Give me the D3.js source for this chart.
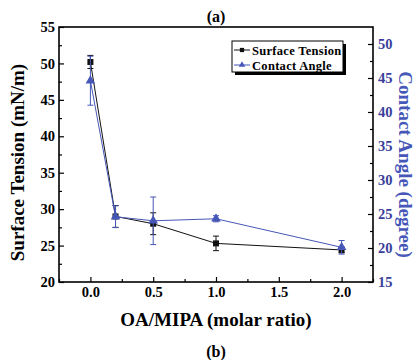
<!DOCTYPE html>
<html>
<head>
<meta charset="utf-8">
<script src="https://cdn.jsdelivr.net/npm/d3@7"></script>
<style>
  body { margin: 0; background: #fff; }
  svg text { font-family: "Liberation Serif", "Times New Roman", serif; font-weight: bold; }
</style>
</head>
<body>
<svg id="chart" width="419" height="360"></svg>
<script>
// data
const ratios = [0, 0.2, 0.5, 1.0, 2.0];
const tension = [50.2, 29.0, 28.0, 25.3, 24.4];
const tensionErr = [0.9, 1.5, 1.5, 1.0, 0.4];
const angle = [44.6, 24.6, 24.0, 24.3, 20.1];
const angleErr = [3.6, 1.6, 3.5, 0.45, 1.0];
const xTicks = [0, 0.5, 1.0, 1.5, 2.0];
const leftTicks = [20, 25, 30, 35, 40, 45, 50, 55];
const rightTicks = [15, 20, 25, 30, 35, 40, 45, 50];

const blue = "#4657b8";
const blueText = "#3a3f9c";

const svg = d3.select("#chart");
const m = { left: 59, right: 373, top: 27, bottom: 282 };

const x = d3.scaleLinear().domain([-0.25, 2.25]).range([m.left, m.right]);
const yL = d3.scaleLinear().domain([20, 55]).range([m.bottom, m.top]);
const yR = d3.scaleLinear().domain([15, 52.5]).range([m.bottom, m.top]);

// frame
svg.append("rect")
  .attr("x", m.left).attr("y", m.top)
  .attr("width", m.right - m.left).attr("height", m.bottom - m.top)
  .attr("fill", "none").attr("stroke", "#000").attr("stroke-width", 1.6);

// axes (ticks inward)
const tickFont = (g, color) => {
  g.select(".domain").remove();
  g.selectAll("text").attr("font-size", 14.5).attr("fill", color);
  g.selectAll("line").attr("stroke", "#000").attr("stroke-width", 1.2);
};

const minorX = d3.range(-0.25, 2.3, 0.25).filter(v => xTicks.indexOf(Math.round(v * 100) / 100) < 0);
svg.append("g").attr("transform", `translate(0,${m.bottom})`)
  .call(d3.axisBottom(x).tickValues(minorX).tickSize(-3).tickFormat(""))
  .call(g => tickFont(g, "#000"));
svg.append("g").attr("transform", `translate(0,${m.bottom})`)
  .call(d3.axisBottom(x).tickValues(xTicks).tickSize(-5).tickPadding(5).tickFormat(d3.format(".1f")))
  .call(g => tickFont(g, "#000"));

svg.append("g").attr("transform", `translate(${m.left},0)`)
  .call(d3.axisLeft(yL).tickValues(d3.range(22.5, 55, 5)).tickSize(-3).tickFormat(""))
  .call(g => tickFont(g, "#000"));
svg.append("g").attr("transform", `translate(${m.left},0)`)
  .call(d3.axisLeft(yL).tickValues(leftTicks).tickSize(-5).tickPadding(4))
  .call(g => tickFont(g, "#000"));

svg.append("g").attr("transform", `translate(${m.right},0)`)
  .call(d3.axisRight(yR).tickValues(d3.range(17.5, 52.5, 5)).tickSize(-3).tickFormat(""))
  .call(g => tickFont(g, "#000"));
svg.append("g").attr("transform", `translate(${m.right},0)`)
  .call(d3.axisRight(yR).tickValues(rightTicks).tickSize(-5).tickPadding(5))
  .call(g => tickFont(g, blueText));

// series
function drawSeries(vals, errs, y, color, shape) {
  const g = svg.append("g");
  const pts = ratios.map((r, i) => ({ r, v: vals[i], e: errs[i] }));
  g.append("path").datum(pts)
    .attr("fill", "none").attr("stroke", color).attr("stroke-width", 1)
    .attr("d", d3.line().x(d => x(d.r)).y(d => y(d.v)));
  const eb = g.selectAll(".eb").data(pts).enter().append("g").attr("stroke", color).attr("stroke-width", 1);
  eb.append("line").attr("x1", d => x(d.r)).attr("x2", d => x(d.r))
    .attr("y1", d => y(d.v - d.e)).attr("y2", d => y(d.v + d.e));
  [-1, 1].forEach(s => {
    eb.append("line").attr("x1", d => x(d.r) - 3).attr("x2", d => x(d.r) + 3)
      .attr("y1", d => y(d.v + s * d.e)).attr("y2", d => y(d.v + s * d.e));
  });
  g.selectAll(".mk").data(pts).enter().append("path")
    .attr("transform", d => `translate(${x(d.r)},${y(d.v)})`)
    .attr("d", d3.symbol().type(shape).size(shape === d3.symbolSquare ? 36 : 40))
    .attr("fill", color);
}
drawSeries(tension, tensionErr, yL, "#111", d3.symbolSquare);
drawSeries(angle, angleErr, yR, blue, d3.symbolTriangle);

// legend
const lg = svg.append("g").attr("transform", "translate(232,41)");
lg.append("rect").attr("x", 3).attr("y", 3).attr("width", 111).attr("height", 31).attr("fill", "#000");
lg.append("rect").attr("width", 111).attr("height", 31).attr("fill", "#fff").attr("stroke", "#000").attr("stroke-width", 1);
const legendItems = [
  { label: "Surface Tension", color: "#111", shape: d3.symbolSquare },
  { label: "Contact Angle", color: blue, shape: d3.symbolTriangle }
];
legendItems.forEach((it, i) => {
  const yy = 9 + i * 15;
  lg.append("line").attr("x1", 2).attr("x2", 18).attr("y1", yy).attr("y2", yy)
    .attr("stroke", it.color).attr("stroke-width", 1);
  lg.append("path").attr("transform", `translate(10,${yy})`)
    .attr("d", d3.symbol().type(it.shape).size(18)).attr("fill", it.color);
  lg.append("text").attr("x", 20).attr("y", yy + 4.5).attr("font-size", 12.5)
    .attr("letter-spacing", 0.3).text(it.label);
});

// titles
svg.append("text").attr("x", 216).attr("y", 22).attr("text-anchor", "middle")
  .attr("font-size", 16).text("(a)");
svg.append("text").attr("x", 216).attr("y", 357).attr("text-anchor", "middle")
  .attr("font-size", 16).text("(b)");
svg.append("text").attr("x", 216).attr("y", 326).attr("text-anchor", "middle")
  .attr("font-size", 19).text("OA/MIPA (molar ratio)");
svg.append("text").attr("transform", `translate(24,${(m.top + m.bottom) / 2 + 8}) rotate(-90)`)
  .attr("text-anchor", "middle").attr("font-size", 19).text("Surface Tension (mN/m)");
svg.append("text").attr("transform", `translate(399,${(m.top + m.bottom) / 2 + 10}) rotate(90)`)
  .attr("text-anchor", "middle").attr("font-size", 19).attr("fill", blue).text("Contact Angle (degree)");
</script>
</body>
</html>
